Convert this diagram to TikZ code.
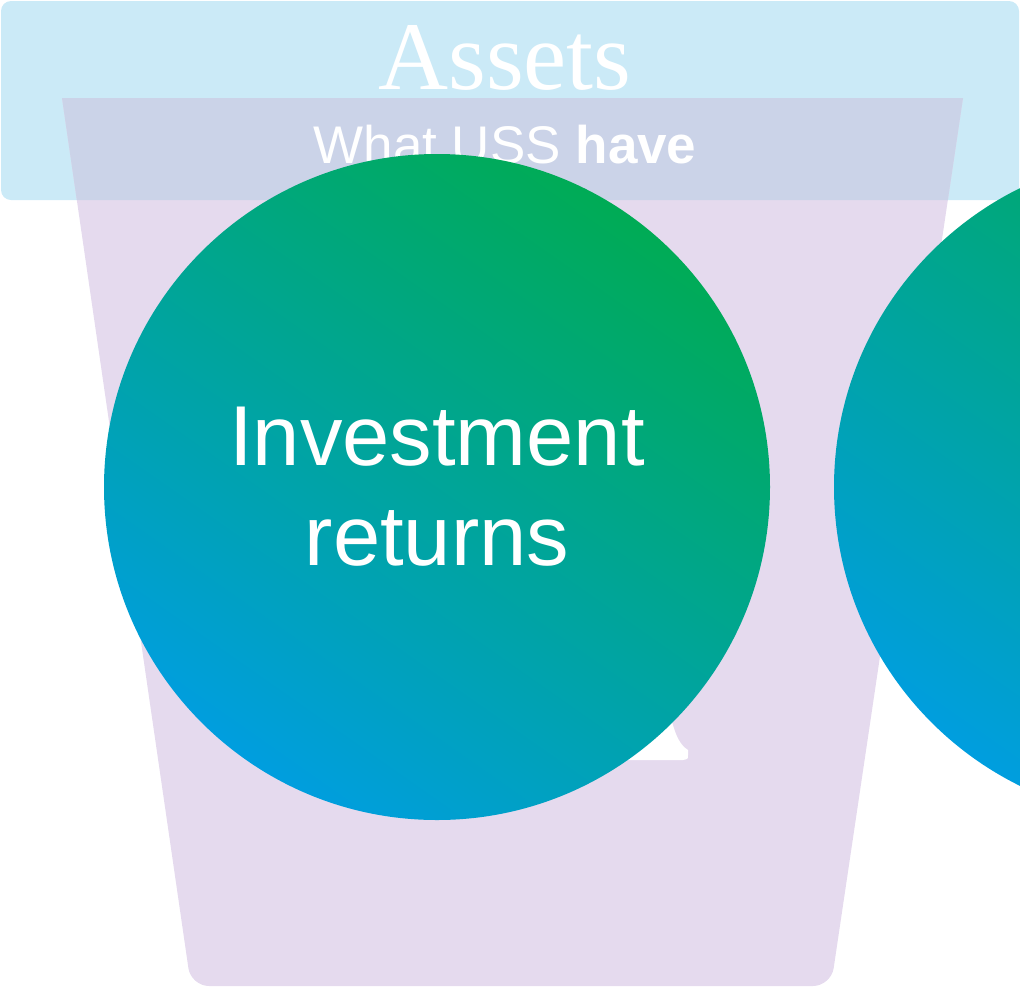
\documentclass[tikz,border=0pt]{standalone}
\usepackage{fontspec}
\setmainfont{Liberation Sans}
\newfontfamily\titlefont{Liberation Serif}
\usepackage{tikz}

\definecolor{skyband}{HTML}{CBEAF7}
\definecolor{bucketlilac}{HTML}{E5DAEE}
\definecolor{bandmix}{HTML}{CBD3E8}
\definecolor{bubblegreen}{HTML}{00AB55}
\definecolor{bubbleblue}{HTML}{009EDF}

\newcommand{\bucketpath}{(62,98) -- (963,98) [rounded corners=18] -- (831,986) -- (191,986) [sharp corners] -- cycle}
\newcommand{\bandpath}{(1,1) rectangle (1019,200)}

\begin{document}
\begin{tikzpicture}[x=1pt,y=-1pt,
	bubble/.style={circle, minimum size=666pt, inner sep=0pt, shading=axis,
		top color=bubblegreen, bottom color=bubbleblue, shading angle=-35,
		text=white, align=center, font=\fontsize{85}{100}\selectfont},
	heading/.style={text=white, inner sep=0pt}]
	\useasboundingbox (0,0) rectangle (1020,986);
	\clip (0,0) rectangle (1020,986);
	% top band and bucket
	\fill [skyband, rounded corners=10] \bandpath;
	\fill [bucketlilac] \bucketpath;
	\begin{scope}
		\clip [rounded corners=10] \bandpath;
		\fill [bandmix] \bucketpath;
	\end{scope}
	% white piece peeking behind the bubble
	\fill [white] (640,722) -- (672,722) .. controls (676,736) and (680,745) .. (688,750) -- (688,755) .. controls (688,759) .. (683,760) -- (600,760) -- cycle;
	% headings
	\node [heading, font=\titlefont\fontsize{97}{97}\selectfont, anchor=base] (assets) at (505,89) {Assets};
	\node [heading, font=\fontsize{53}{53}\selectfont, anchor=base] (what) at (505,163) {What USS \textbf{have}};
	% bubbles
	\node [bubble] (invest) at (437,487) {Investment\\returns};
	\node [bubble] (nextbubble) at (1167,487) {};
\end{tikzpicture}
\end{document}
